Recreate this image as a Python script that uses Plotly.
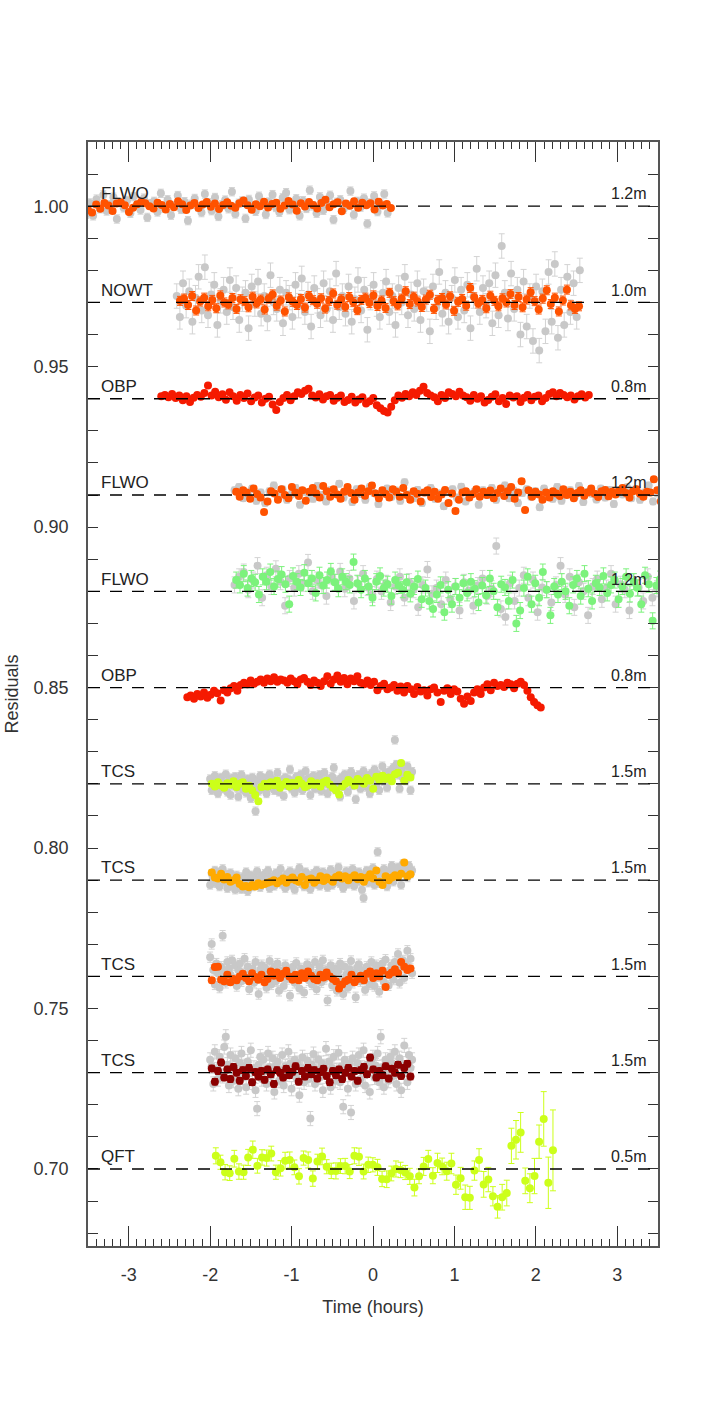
import numpy as np
import plotly.graph_objects as go

# ---------------- data (residual deviations in units of 1e-4) ----------------
bases = [1.00, 0.97, 0.94, 0.91, 0.88, 0.85, 0.82, 0.79, 0.76, 0.73, 0.70]
site_labels = ["FLWO", "NOWT", "OBP", "FLWO", "FLWO", "OBP", "TCS", "TCS", "TCS", "TCS", "QFT"]
aperture_labels = ["1.2m", "1.0m", "0.8m", "1.2m", "1.2m", "0.8m", "1.5m", "1.5m", "1.5m", "1.5m", "0.5m"]
colors = ["#FF5200", "#FF5200", "#F51A00", "#FF5200", "#7CF27C", "#F51A00",
          "#CCFF1A", "#FFAA00", "#FF5200", "#8B0000", "#CCFF1A"]
x_tick_vals = [-3, -2, -1, 0, 1, 2, 3]
x_tick_text = ["-3", "-2", "-1", "0", "1", "2", "3"]

# time spans (hours) of the binned (coloured) and raw (grey) light curves
col_span = [(-3.50, 0.22), (-2.37, 2.53), (-2.60, 2.65), (-1.68, 3.62), (-1.68, 3.62), (-2.28, 2.06),
            (-1.98, 0.46), (-1.98, 0.46), (-1.98, 0.46), (-1.98, 0.46), (-1.93, 2.21)]
gray_span = [(-3.52, 0.18), (-2.41, 2.54), None, (-1.70, 3.60), (-1.70, 3.60), None,
             (-2.00, 0.48), (-2.00, 0.48), (-2.00, 0.48), (-2.00, 0.48), None]
col_err = [7, 14, 4, 8, 25, 5, 8, 7, 8, 10, None]
gray_err = [13, 38, None, 10, 25, None, 13, 13, 16, 22, None]

flwo1_col = [-12, -20, 5, -8, 10, 2, -15, 8, 12, 3, -18, -5, 6, 14, 9, 0, -7, 11, 4, -10, 7, -3, 15, 6, -12,
             2, 10, -6, 5, 13, -2, 8, -9, 4, 12, 1, -5, 9, 18, 3, -11, 6, 0, 14, -4, 7, 11, -8, 2, 16, 5,
             -14, 9, -1, 13, 4, -7, 10, 20, -3, 6, 12, -16, 8, 1, 15, -5, 11, 3, 9, -10, 14, 2, 7, -6]
flwo1_gray = [-25, 10, -30, 22, -8, 35, -15, 5, 28, -40, 12, -5, 18, -22, 30, 3, -12, 25, -35, 8, 15, -18, 40,
              -6, 20, -28, 2, 33, -10, 14, -45, 6, 24, -2, -20, 38, 11, -14, 27, -32, 4, 19, -8, 45, -24, 9,
              16, -38, 21, 0, -16, 31, 7, -26, 13, 36, -4, -19, 26, 42, -11, 5, 23, -30, 17, -7, 50, 1, -22,
              29, -13, 8, 34, -42, 12, 20, -9, 3, 47, -27, 15, -3, 25, -55, 10, 32, -17, 6, 38, -21]

nowt_col = [5, 12, -8, 20, -25, 3, 15, -12, 8, -18, 22, 0, -6, 14, -20, 10, 4, -15, 18, -3, 9, -22, 12, 25,
            -10, 6, -28, 16, 2, -8, 11, -16, 20, 7, -4, 13, -19, 5, 28, -7, 10, -13, 17, 1, -24, 8, 15, -2,
            22, -11, 6, -17, 30, 4, -9, 12, 35, -5, 18, 3, -14, 9, 24, -20, 7, 14, -6, 19, -26, 2, 11, -10,
            45, 16, -3, 8, -18, 21, 5, -12, 13, 0, 26, -8, 17, -15, 9, 32, 4, -22, 12, 38, -5, 15, -28, 6,
            40, -9, -20, -12]
nowt_gray = [20, -45, 60, -10, 35, -60, 15, 80, -25, 110, -40, 25, 55, -70, 5, 40, -30, 70, -15, 45, -55, 10,
             30, -80, 50, -5, 65, -35, 20, -50, 85, 0, -20, 40, -65, 30, 15, -45, 55, -10, 75, -30, 25, -75,
             45, 5, -40, 60, -20, 35, -55, 90, -15, 20, -35, 50, -60, 10, 70, -25, 40, -85, 15, 55, -5, -45,
             30, 65, -30, 20, -70, 45, 0, 80, -40, 25, -20, 60, -55, 35, 10, -90, 50, -15, 95, -35, 30, -60,
             15, 70, -45, 40, -25, 55, -80, 20, 105, -30, 45, -10, 60, -65, 85, -40, 176, 30, -50, 90, -20,
             40, -100, 65, -75, 20, -120, 50, -150, 35, -90, 95, -60, 120, -110, 40, -70, 80, -30, 60, -45, 100]

obp1_col = [8, 12, 5, 15, 2, 10, -5, 8, -10, 3, 12, 6, 18, 41, 10, 22, 5, 14, -3, 20, 8, -6, 12, 2, 16, -8,
            4, 10, -12, 0, 6, -18, -35, -10, 2, 12, -5, 8, 20, 15, 25, 31, 10, 4, 14, -2, 8, 12, -6, 3, 10,
            -10, -4, 6, -12, -2, 5, -15, -8, 2, -20, -30, -38, -43, -25, -5, 10, 3, 15, 8, 20, 12, 25, 37,
            18, 10, 5, -8, 12, 2, 20, 15, 8, 22, 10, 5, -6, 12, 0, 8, -12, -4, 6, 14, -8, 2, -16, 10, 4, 8,
            -10, 3, 12, -5, 6, 10, -8, 2, 15, 20, 8, 18, 12, 5, 10, -2, 8, 14, 4, 12]

flwo2_col = [10, -5, 15, 8, -12, 20, 3, -8, -53, -20, 12, 5, -15, 18, 0, -10, 25, 8, -3, 15, -18, 10, 22, 5,
             -8, 28, 12, -5, 18, 2, -12, 10, 25, 6, -15, 8, 20, -2, 12, 30, 5, -10, 15, 3, -8, 18, 10, -5, 22,
             0, -15, 12, 4, -20, 8, 15, -6, 10, -12, 2, 16, -25, 5, -50, -15, 8, 12, -8, 3, 18, -5, 10, 0, 14,
             -10, 6, 20, -3, 12, 25, -12, 8, 43, -47, 15, -5, 10, 2, -15, 8, -8, 12, 5, -3, 18, 0, 10, -10, 6,
             15, -2, 8, 20, 4, -6, 12, 16, -4, 10, 2, 14, 22, 6, -8, 12, 18, 4, -5, 10, 8, 49, 15, -20, 12, -10]
flwo2_gray = [15, 25, -10, 5, 20, -18, 8, -25, 12, 30, -5, 18, -15, 2, 22, -30, 10, 5, -12, 28, 0, -20, 15, 8,
              35, -8, 12, -22, 18, 3, -15, 25, 6, -28, 10, 20, -5, 14, -18, 40, 2, -10, 16, -25, 8, 22, -12, 5,
              -35, 12, 18, -8, 26, -20, 4, 10, -30, 15, 0, 22, -15, 8, 30, -10, 14, -25, 6, 18, -5, 12, -38, 20,
              3, -12, 25, -18, 9, 15, -6, 28, -22, 10, 4, -14, 20, -8, 16, -28, 12, 2, 24, -10, 18, -15, 8, 30,
              -20, 5, 12, -25]

flwo3_col = [35, 20, 55, 10, 40, 28, -10, 45, 30, 60, 15, 38, 52, 22, -40, 48, 30, 12, 58, 25, 40, -5, 50, 18,
             35, 62, 28, 8, 45, 30, 20, 91, 25, 5, 40, 15, -20, 30, 48, 10, 22, -15, 35, 18, 5, 28, -8, 15, 38,
             -25, 10, -30, -55, -10, 20, -65, 5, -40, 15, -20, 25, -5, 30, 8, -35, 18, -12, 40, 0, -50, 22, 12,
             -30, 35, -100, -60, 10, 45, -40, 25, -20, 60, 5, -75, 15, -10, 30, 0, -45, 20, 40, -15, 55, 8, -30,
             25, 12, 48, -5, 20, 35, -25, 15, 45, -8, 30, 10, -40, 50, 22, -92, 18, 38, -35, 10]
flwo3_gray = [20, 45, 60, 5, 35, 80, -20, 50, 15, 70, 30, -45, 40, 10, 55, 25, 90, 0, 35, 18, -15, 48, 28, 62,
              8, 40, -30, 22, 55, 12, -10, 38, 0, 25, -35, 15, 45, -20, 30, 5, -50, 20, 68, -8, 10, -40, 35, -25,
              15, -60, 28, 2, -45, 18, 40, -15, 8, 141, -55, -80, 25, -30, 10, 50, -20, 35, -65, 12, 5, -35, 20,
              80, -10, 45, -50, 28, 0, -75, 15, 38, -25, 10, 55, -40, 22, 5, -60, 30, 12, -30, 45, -20, 8, 35, -45]

obp2_col = [-30, -25, -35, -20, -28, -15, -32, -22, -10, -18, -40, -8, -15, -2, 5, -10, 8, 15, 10, 22, 12, 18,
            25, 15, 28, 20, 32, 18, 25, 22, 15, 28, 20, 10, 25, 30, 18, 8, 22, 15, 5, 20, 35, 12, 25, 38, 18,
            30, 10, 28, 20, 35, 15, 10, 22, 8, 18, -8, 5, 12, -5, 0, 8, -10, 3, -15, 5, -5, -20, 2, -12, -8,
            -25, -5, 0, -15, -45, -10, -2, -20, -5, -12, -35, -50, -28, -42, -15, -5, -20, 0, 10, -8, 15, 5, 8,
            2, 15, 10, -2, 12, 18, 8, -10, -30, -45, -55, -62]

tcs1_col = [0, -8, 5, -5, -12, 2, -3, 8, -10, 0, 5, -15, -6, -20, -35, -54, -10, 0, -8, 5, -4, 10, -12, -2, 6,
            -8, 3, -5, 12, 0, -10, -5, 8, -3, 2, -8, 5, 10, -2, -12, -20, -33, -8, 0, 12, 5, -5, 15, 8, 0, 18,
            10, -15, 22, 12, 25, 15, 20, 8, 30, 35, 65, 10, 28, 20]
tcs1_gray = [15, -20, 5, 25, -10, -30, 10, 20, -15, 0, 30, -25, 8, -35, 18, -5, 22, -12, -40, 5, 28, -18, 12,
             -28, 15, 2, -45, 20, -8, -85, 10, -22, 25, 3, -15, 18, -30, 8, 30, -10, 14, -20, 5, 35, -25, 0, 12,
             -38, 20, -5, 15, 45, -15, 8, -28, 22, 2, -12, 30, -20, 10, 40, -8, 18, -35, 5, 25, -15, 12, -5, 28,
             -22, 8, 35, 0, -30, 15, -10, 22, 50, -18, 5, 12, -40, 20, -8, 30, 10, -25, 15, 38, -5, 22, -48, 10,
             28, -15, 5, 40, 18, -10, 25, -30, 32, 12, 45, -5, 30, -20, 20, 55, 8, 35, -12, 25, 40, 15, 50, 137,
             60, 28, -15, 45, 20, 30, 10, 55, 25, -20, 38]

tcs2_col = [24, 8, 5, 20, 2, 10, -5, 0, 8, -12, -20, -18, -22, -15, -20, -10, -15, -12, -8, -5, 0, -10, -3, 5,
            -8, 2, 8, 0, -5, 10, -15, 2, 5, -8, 0, 12, -3, 8, 2, -5, 10, 15, 5, 12, 0, 8, 15, 3, 10, -5, 8, 18,
            5, 30, -5, -15, 12, 0, 8, 15, 10, 20, 55, 12, 18]
tcs2_gray = [-15, 20, 5, 30, -10, 25, -20, 12, 35, -5, 18, -25, 8, 22, -18, 2, -30, 15, -12, 5, -28, 10, -8, 25,
             -35, 0, 15, -20, 8, -15, 28, 3, -22, 12, -10, 20, -5, 30, -25, 10, 2, -18, 22, -8, 15, 35, -12, 5,
             -25, 18, 0, 28, -15, 10, -30, 22, 5, 38, -10, 12, -20, 25, -5, 15, -28, 8, 20, -12, 30, 2, -18, 12,
             25, -8, 18, -22, 5, 32, -15, 10, -5, 22, 40, -10, 15, -25, 8, 28, -12, 20, 0, 35, -18, 12, -5, 25,
             10, -30, -56, 15, 30, -8, 20, 5, 38, -15, 25, 88, 12, -10, 22, 35, 5, -20, 28, 15, 45, -5, 30, 10,
             40, 20, -15, 50, 25, 35, 8, 45, 20, 30]

tcs3_col = [-12, 29, 30, -10, -15, 5, -18, -8, -12, 0, 8, -5, -15, 10, -2, -10, 5, -18, -8, 15, 2, 12, -5, 8,
            18, 0, -10, 5, -12, 10, -5, 15, 2, -8, -12, 5, -3, 12, 0, -8, -15, -38, -25, -15, -10, 5, -18, -8,
            2, -12, 8, 15, -5, 10, 0, 18, -33, 5, 12, 22, 10, 45, 30, 20, 25]
tcs3_gray = [60, 101, 20, -25, 40, 10, -35, 30, 127, 15, -20, 45, 25, 5, 50, -10, 35, -30, 20, 40, -15, 10, 55,
             -5, 30, -40, 15, 25, -20, 45, 0, -55, 20, 35, -10, 28, -35, 12, 48, -25, 5, 30, -15, 40, -45, 18, 8,
             -30, 35, -8, 22, -60, 10, 30, -20, 42, 0, -38, 25, 15, -50, 20, 38, -12, 28, -25, 5, 45, -40, 12,
             30, -18, 50, -8, 20, -75, 15, 35, -28, 8, 25, -45, 18, 40, -10, -55, 30, 5, -35, 22, 48, -20, 12,
             -65, 28, 38, -15, 10, 20, -42, 30, 5, -25, 45, 15, -30, 35, 0, -48, 25, 40, -18, 52, 10, -28, 20,
             35, -10, 45, 15, 70, -20, 30, 50, -5, 38, 80, 25, 55, 10]

tcs4_col = [13, -28, 5, 32, -15, 10, -20, 18, 0, -25, 8, -10, 15, -30, 2, -12, 5, -22, 10, -5, -35, 8, 0, -15,
            12, -8, 3, 20, -28, 5, -12, 15, -5, 8, -18, 2, 12, -10, -30, 5, -8, 10, -20, 0, 15, -12, 5, -25, 8,
            18, -5, 47, 10, -15, 5, -8, 20, -18, 12, 0, 25, -10, 15, 28, -12]
tcs4_gray = [40, 20, -35, 65, 10, -20, 50, 30, -10, 80, 112, 25, -40, 55, 15, -25, 45, 5, -50, 30, 60, -15, 20,
             -45, 35, 10, 70, -30, 15, -55, -112, 25, 50, -20, 40, 5, -35, 60, 18, -10, 45, -60, 22, 35, -25, 8,
             55, -40, 20, -5, 65, 28, -50, 12, 40, -15, 30, -70, 15, 48, -30, 5, 38, -20, -143, 25, 58, -35, 10,
             42, -15, 30, -55, 20, 75, -5, 35, -45, 15, 50, -25, 8, 62, -30, 20, -106, 40, 12, -50, 28, -124, 45,
             5, -35, 30, 55, -20, 15, 70, -40, 25, 10, -60, 35, 48, -15, 22, 60, -30, 112, 18, -45, 40, 8, -25,
             50, 30, -10, 65, -35, 20, 45, -55, 28, 85, 10, -30, 55, 15, 40]

qft_col = [41, 21, -10, -13, 32, -8, -10, 36, 60, 10, 36, 34, 48, -10, 2, 26, 28, 5, -23, 34, 28, -30, 23, 39,
           7, -6, -6, 9, 9, -8, 41, 38, -8, 13, 13, 5, -31, -32, -14, 0, -3, -11, -23, -58, -23, 8, 31, -21, 19,
           8, -7, 17, -49, -29, -88, -90, -5, 28, -48, -33, -85, -118, -88, -75, 72, 91, 114, -37, -60, -22, 85,
           156, -43, 58]
qft_err = [25, 22, 24, 23, 26, 24, 22, 25, 27, 23, 24, 25, 23, 22, 24, 26, 25, 23, 24, 22, 25, 24, 23, 26, 22,
           24, 25, 23, 24, 22, 25, 27, 23, 24, 22, 25, 24, 26, 23, 25, 24, 22, 25, 26, 23, 28, 27, 25, 30, 26,
           28, 32, 30, 34, 38, 36, 30, 35, 40, 38, 30, 35, 40, 40, 55, 60, 62, 40, 45, 55, 52, 85, 80, 126]

col_data = [flwo1_col, nowt_col, obp1_col, flwo2_col, flwo3_col, obp2_col,
            tcs1_col, tcs2_col, tcs3_col, tcs4_col, qft_col]
gray_data = [flwo1_gray, nowt_gray, None, flwo2_gray, flwo3_gray, None,
             tcs1_gray, tcs2_gray, tcs3_gray, tcs4_gray, None]

# ---------------- figure ----------------
UNIT = 1e-4
FONT = "Liberation Sans, Arial, Helvetica, sans-serif"
fig = go.Figure()

# raw (grey) light curves underneath
for i, g in enumerate(gray_data):
    if g is None:
        continue
    t = np.linspace(gray_span[i][0], gray_span[i][1], len(g))
    fig.add_trace(go.Scatter(
        x=t, y=bases[i] + np.array(g) * UNIT, mode="markers",
        marker=dict(color="#C8C8C8", size=8, line=dict(width=0)),
        error_y=dict(type="data", array=[gray_err[i] * UNIT] * len(g), color="#D3D3D3", thickness=1, width=3),
        showlegend=False, hoverinfo="skip"))

# binned / coloured light curves
for i, c in enumerate(col_data):
    t = np.linspace(col_span[i][0], col_span[i][1], len(c))
    if col_err[i] is None:
        err = np.array(qft_err) * UNIT
    else:
        err = [col_err[i] * UNIT] * len(c)
    fig.add_trace(go.Scatter(
        x=t, y=bases[i] + np.array(c) * UNIT, mode="markers",
        marker=dict(color=colors[i], size=8, line=dict(width=0)),
        error_y=dict(type="data", array=err, color=colors[i], thickness=1, width=3),
        showlegend=False, name=site_labels[i]))

# dashed reference lines and labels
for i, b in enumerate(bases):
    fig.add_shape(type="line", xref="paper", x0=0, x1=1, yref="y", y0=b, y1=b,
                  line=dict(color="black", width=1.3, dash="12px,10px"), layer="above")
    fig.add_annotation(x=-3.36, y=b + 0.0038, text=site_labels[i], showarrow=False,
                       xanchor="left", yanchor="middle",
                       font=dict(family=FONT, size=17, color="#222"))
    fig.add_annotation(x=3.39, y=b + 0.0038, text=aperture_labels[i], showarrow=False,
                       xanchor="right", yanchor="middle",
                       font=dict(family=FONT, size=16, color="#222"))

axis_font = dict(family=FONT, size=18, color="#333")
fig.update_layout(
    width=713, height=1425,
    margin=dict(l=88, r=55, t=142, b=179, autoexpand=False),
    paper_bgcolor="white", plot_bgcolor="white",
    font=axis_font,
    xaxis=dict(range=[-3.5, 3.5], tickmode="array", tickvals=x_tick_vals, ticktext=x_tick_text,
               ticks="inside", ticklen=20, tickwidth=1, automargin=False,
               tickcolor="#333", showline=True, linecolor="#555", linewidth=1.5, mirror="ticks",
               showgrid=False, zeroline=False, tickfont=axis_font, ticklabelstandoff=12,
               minor=dict(dtick=0.1, tick0=0, ticklen=7, ticks="inside", tickcolor="#333", tickwidth=1,
                          showgrid=False),
               title=dict(text="Time (hours)", font=dict(family=FONT, size=18, color="#333"),
                          standoff=16)),
    yaxis=dict(range=[0.676, 1.02], tick0=0.70, dtick=0.05, tickformat=".2f", ticks="inside", ticklen=10,
               tickwidth=1, tickcolor="#333", showline=True, linecolor="#555", linewidth=1.5, mirror="ticks",
               showgrid=False, zeroline=False, tickfont=axis_font, ticklabelstandoff=14, automargin=False,
               minor=dict(dtick=0.01, ticklen=10, ticks="inside", tickcolor="#333", tickwidth=1, showgrid=False),
               title=dict(text="Residuals", font=dict(family=FONT, size=18, color="#333"),
                          standoff=10)),
)

fig.write_html("out.html")
